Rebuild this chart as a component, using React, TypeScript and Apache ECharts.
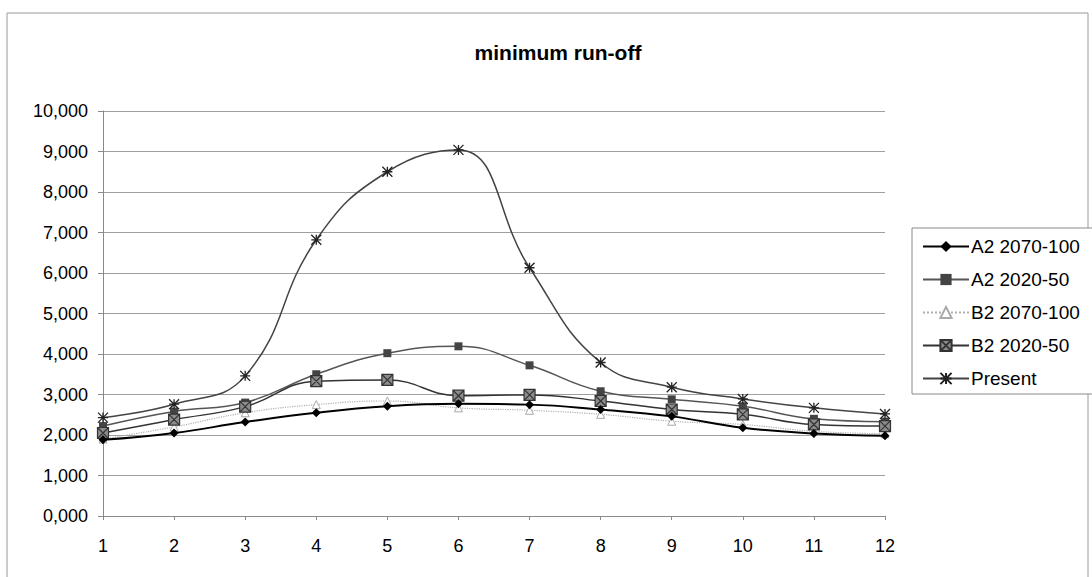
import React, { useEffect, useRef } from "react";
import * as echarts from "echarts";

const months = ["1", "2", "3", "4", "5", "6", "7", "8", "9", "10", "11", "12"];
const yTicks = [0, 1, 2, 3, 4, 5, 6, 7, 8, 9, 10];

const a2_2070 = [1.88, 2.05, 2.32, 2.55, 2.71, 2.77, 2.75, 2.63, 2.46, 2.18, 2.04, 1.98];
const a2_2020 = [2.22, 2.58, 2.80, 3.50, 4.02, 4.19, 3.72, 3.08, 2.88, 2.71, 2.40, 2.33];
const b2_2070 = [1.90, 2.20, 2.55, 2.75, 2.84, 2.67, 2.61, 2.51, 2.34, 2.26, 2.09, 2.03];
const b2_2020 = [2.05, 2.38, 2.70, 3.33, 3.36, 2.97, 2.99, 2.84, 2.63, 2.51, 2.26, 2.22];
const present = [2.43, 2.76, 3.46, 6.82, 8.50, 9.04, 6.13, 3.79, 3.18, 2.89, 2.67, 2.52];

const seriesNames = ["A2 2070-100", "A2 2020-50", "B2 2070-100", "B2 2020-50", "Present"];

const ASTERISK = "path://M0,0 L10,10 M10,0 L0,10 M5,0 L5,10 M0,5 L10,5";
const XSQUARE = "path://M0,0 L10,0 L10,10 L0,10 Z M0,0 L10,10 M10,0 L0,10";

export default function App() {
  const ref = useRef<HTMLDivElement>(null);
  useEffect(() => {
    if (!ref.current) return;
    const chart = echarts.init(ref.current, null, { renderer: "svg" });
    const font = "Liberation Sans, Arial, sans-serif";
    const SM = 0.45;
    chart.setOption({
      animation: false,
      backgroundColor: "#ffffff",
      textStyle: { fontFamily: font },
      title: {
        text: "minimum run-off",
        left: 553,
        textAlign: "center",
        top: 37,
        textStyle: { fontSize: 21, fontWeight: "bold", color: "#000", fontFamily: font },
      },
      graphic: [
        {
          type: "rect",
          shape: { x: 7, y: 13, width: 1081, height: 600 },
          style: { fill: "none", stroke: "#9a9a9a", lineWidth: 1 },
          silent: true,
          z: -1,
        },
      ],
      legend: {
        orient: "vertical",
        left: 912,
        top: 228,
        width: 200,
        padding: [9, 30, 6, 10],
        itemGap: 14,
        itemWidth: 46,
        itemHeight: 14,
        borderColor: "#8a8a8a",
        borderWidth: 1,
        backgroundColor: "#fff",
        data: seriesNames,
        textStyle: { fontSize: 19, lineHeight: 19, color: "#000", fontFamily: font, padding: [0, 0, 0, -3] },
      },
      grid: { left: 103, top: 111, width: 782, height: 405, containLabel: false },
      xAxis: {
        type: "category",
        data: months,
        boundaryGap: false,
        axisLine: { lineStyle: { color: "#8a8a8a", width: 1 } },
        axisTick: { show: true, length: 4, lineStyle: { color: "#8a8a8a" } },
        axisLabel: { fontSize: 18, color: "#000", margin: 21, fontFamily: font },
        splitLine: { show: false },
      },
      yAxis: {
        type: "value",
        min: 0,
        max: 10,
        interval: 1,
        axisLine: { show: true, lineStyle: { color: "#8a8a8a", width: 1 } },
        axisTick: { show: true, length: 5, lineStyle: { color: "#8a8a8a" } },
        axisLabel: {
          fontSize: 18,
          color: "#000",
          margin: 15,
          fontFamily: font,
          formatter: (v: number) => (yTicks.includes(v) ? v.toFixed(3).replace(".", ",") : ""),
        },
        splitLine: { show: true, lineStyle: { color: "#a0a0a0", width: 1 } },
      },
      series: [
        {
          name: "A2 2070-100",
          type: "line",
          data: a2_2070,
          smooth: SM,
          symbol: "diamond",
          symbolSize: 9,
          lineStyle: { color: "#000", width: 2 },
          itemStyle: { color: "#000" },
          z: 6,
        },
        {
          name: "A2 2020-50",
          type: "line",
          data: a2_2020,
          smooth: SM,
          symbol: "rect",
          symbolSize: 8,
          lineStyle: { color: "#555", width: 1.5 },
          itemStyle: { color: "#444" },
          z: 4,
        },
        {
          name: "B2 2070-100",
          type: "line",
          data: b2_2070,
          smooth: SM,
          symbol: "triangle",
          symbolSize: 8,
          lineStyle: { color: "#b0b0b0", width: 1.2, type: "dotted" },
          itemStyle: { color: "#fff", borderColor: "#aaa", borderWidth: 1 },
          z: 3,
        },
        {
          name: "B2 2020-50",
          type: "line",
          data: b2_2020,
          smooth: SM,
          symbol: XSQUARE,
          symbolSize: 11,
          lineStyle: { color: "#333", width: 1.5 },
          itemStyle: { color: "#8c8c8c", borderColor: "#333", borderWidth: 1.2 },
          z: 5,
        },
        {
          name: "Present",
          type: "line",
          data: present,
          smooth: SM,
          symbol: ASTERISK,
          symbolSize: 10,
          lineStyle: { color: "#444", width: 1.5 },
          itemStyle: { color: "none", borderColor: "#222", borderWidth: 1.3 },
          z: 7,
        },
      ],
    });
    return () => chart.dispose();
  }, []);
  return (
    <div
      ref={ref}
      style={{ position: "absolute", left: 0, top: 0, width: 1092, height: 577 }}
    />
  );
}
